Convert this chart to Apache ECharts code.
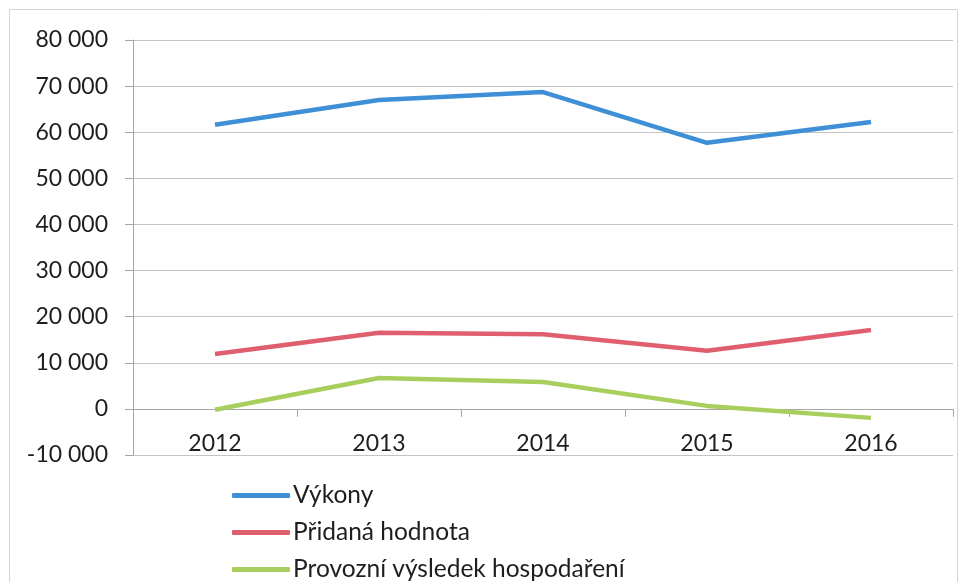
<!DOCTYPE html>
<html>
<head>
<meta charset="utf-8">
<script src="https://cdn.jsdelivr.net/npm/echarts@6/dist/echarts.min.js"></script>
<style>
  html, body { margin: 0; padding: 0; background: #fff; }
  #chart { width: 960px; height: 582px; }
</style>
</head>
<body>
<div id="chart"></div>
<script>
// data
const years = ['2012', '2013', '2014', '2015', '2016'];
const vykony = [61600, 67000, 68700, 57700, 62200];
const pridanaHodnota = [11900, 16500, 16200, 12600, 17100];
const provozniVysledek = [-200, 6700, 5850, 650, -1950];
const seriesNames = ['Výkony', 'Přidaná hodnota', 'Provozní výsledek hospodaření'];
const colors = ['#3f8fd6', '#df5f6e', '#a8cf5e'];

const font = 'Lato, "Open Sans", sans-serif';
const textColor = '#1e1e1e';
const fmt = v => String(v).replace(/\B(?=(\d{3})+(?!\d))/g, ' ');

// one legend per row, so they stack like the Excel legend
const legendTops = [483, 520, 557];
const legends = seriesNames.map((name, i) => ({
  orient: 'vertical',
  left: 232,
  top: legendTops[i],
  padding: 0,
  icon: 'roundRect',
  itemWidth: 58,
  itemHeight: 5,
  data: [name],
  textStyle: { fontFamily: font, fontSize: 24.5, color: textColor, padding: [0, 0, 0, -2] }
}));

let chart = echarts.init(document.getElementById('chart'));
let option = {
  color: colors,
  animation: false,
  textStyle: { fontFamily: font, color: textColor },
  graphic: [{
    type: 'rect',
    shape: { x: 9.5, y: 9.5, width: 948, height: 580 },
    style: { fill: 'none', stroke: '#d4d4d4', lineWidth: 1 },
    z: -1
  }],
  grid: { left: 133, right: 7, top: 40, bottom: 127 },
  legend: legends,
  xAxis: {
    type: 'category',
    data: years,
    boundaryGap: true,
    axisLine: { onZero: true, lineStyle: { color: '#a6a6a6', width: 1 } },
    axisTick: { show: true, length: 8, lineStyle: { color: '#a6a6a6' } },
    // labels sit just under the zero line, as in the original
    axisLabel: { margin: -23, fontSize: 23, color: textColor, fontFamily: font },
    splitLine: { show: false }
  },
  yAxis: {
    type: 'value',
    min: -10000,
    max: 80000,
    interval: 10000,
    axisLine: { show: true, lineStyle: { color: '#a6a6a6', width: 1 } },
    axisTick: { show: true, length: 8, lineStyle: { color: '#a6a6a6' } },
    axisLabel: { margin: 25, fontSize: 23, color: textColor, fontFamily: font, formatter: fmt },
    splitLine: { show: true, lineStyle: { color: '#c4c4c4', width: 1 } }
  },
  series: [
    { name: seriesNames[0], type: 'line', data: vykony, symbol: 'none', lineStyle: { width: 4.5 } },
    { name: seriesNames[1], type: 'line', data: pridanaHodnota, symbol: 'none', lineStyle: { width: 4.5 } },
    { name: seriesNames[2], type: 'line', data: provozniVysledek, symbol: 'none', lineStyle: { width: 4.5 } }
  ]
};
chart.setOption(option);
</script>
</body>
</html>
